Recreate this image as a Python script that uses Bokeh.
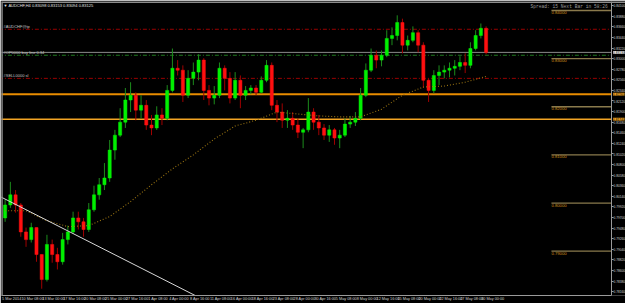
import numpy as np
from bokeh.plotting import figure
from bokeh.models import Range1d, FixedTicker, PrintfTickFormatter, Span, Label
from bokeh.embed import file_html
from bokeh.resources import INLINE

# ---------------- data ----------------
header = "\u25bc AUDCHF,H4  0.83098 0.83153 0.83094 0.83125"
status_text = "Spread: 15  Next Bar in 58:26"
bars_per_candle = 4          # each drawn candle groups four H4 bars
first_open = 0.7969

closes = [0.7996, 0.8017, 0.7996, 0.7940, 0.7924, 0.7949, 0.7893, 0.7841, 0.7914, 0.7893,
          0.7878, 0.7924, 0.7940, 0.7969, 0.7961, 0.7945, 0.7986, 0.8017, 0.8038, 0.8052,
          0.8110, 0.8141, 0.8168, 0.8214, 0.8224, 0.8193, 0.8203, 0.8162, 0.8156, 0.8183,
          0.8176, 0.8234, 0.8280, 0.8276, 0.8224, 0.8259, 0.8272, 0.8297, 0.8234, 0.8218,
          0.8224, 0.8280, 0.8259, 0.8218, 0.8255, 0.8224, 0.8234, 0.8239, 0.8230, 0.8255,
          0.8286, 0.8203, 0.8189, 0.8172, 0.8176, 0.8162, 0.8147, 0.8152, 0.8189, 0.8168,
          0.8156, 0.8141, 0.8152, 0.8135, 0.8141, 0.8164, 0.8168, 0.8176, 0.8224, 0.8276,
          0.8307, 0.8297, 0.8307, 0.8342, 0.8348, 0.8375, 0.8328, 0.8338, 0.8354, 0.8328,
          0.8255, 0.8234, 0.8265, 0.8272, 0.8276, 0.8280, 0.8284, 0.8292, 0.8286, 0.8321,
          0.8348, 0.8363, 0.8313]
highs = [0.8007, 0.8044, 0.8027, 0.8000, 0.7949, 0.7959, 0.7949, 0.7893, 0.7934, 0.7924,
         0.7907, 0.7938, 0.7953, 0.7982, 0.7982, 0.7969, 0.8000, 0.8036, 0.8052, 0.8083,
         0.8131, 0.8152, 0.8197, 0.8239, 0.8251, 0.8230, 0.8224, 0.8214, 0.8183, 0.8201,
         0.8197, 0.8245, 0.8321, 0.8297, 0.8286, 0.8276, 0.8292, 0.8309, 0.8301, 0.8245,
         0.8243, 0.8292, 0.8286, 0.8272, 0.8272, 0.8265, 0.8243, 0.8245, 0.8245, 0.8263,
         0.8297, 0.8292, 0.8214, 0.8207, 0.8193, 0.8189, 0.8176, 0.8156, 0.8218, 0.8197,
         0.8183, 0.8164, 0.8162, 0.8156, 0.8152, 0.8176, 0.8181, 0.8189, 0.8239, 0.8290,
         0.8321, 0.8317, 0.8317, 0.8359, 0.8365, 0.8390, 0.8383, 0.8348, 0.8367, 0.8359,
         0.8334, 0.8259, 0.8276, 0.8286, 0.8286, 0.8292, 0.8297, 0.8305, 0.8311, 0.8334,
         0.8359, 0.8373, 0.8367]
lows = [0.7961, 0.7990, 0.7980, 0.7930, 0.7909, 0.7918, 0.7878, 0.7822, 0.7837, 0.7876,
        0.7862, 0.7872, 0.7914, 0.7936, 0.7945, 0.7930, 0.7940, 0.7982, 0.8007, 0.8027,
        0.8044, 0.8090, 0.8137, 0.8156, 0.8189, 0.8172, 0.8176, 0.8152, 0.8141, 0.8152,
        0.8162, 0.8172, 0.8230, 0.8265, 0.8210, 0.8218, 0.8245, 0.8255, 0.8214, 0.8203,
        0.8205, 0.8218, 0.8234, 0.8207, 0.8214, 0.8197, 0.8214, 0.8226, 0.8224, 0.8228,
        0.8251, 0.8193, 0.8168, 0.8156, 0.8156, 0.8152, 0.8135, 0.8114, 0.8147, 0.8152,
        0.8141, 0.8131, 0.8127, 0.8121, 0.8114, 0.8137, 0.8156, 0.8160, 0.8172, 0.8220,
        0.8272, 0.8280, 0.8284, 0.8303, 0.8328, 0.8338, 0.8311, 0.8317, 0.8334, 0.8313,
        0.8239, 0.8210, 0.8228, 0.8245, 0.8259, 0.8261, 0.8265, 0.8276, 0.8270, 0.8280,
        0.8317, 0.8342, 0.8309]

# moving average, read at every fourth candle
ma_candles = [0, 4, 8, 12, 16, 20, 24, 28, 32, 36, 40, 44, 48, 52, 56, 60, 64, 68, 72, 76, 80, 84, 88, 92]
ma_values = [0.7984, 0.7984, 0.7963, 0.7951, 0.7953, 0.7972, 0.8003, 0.8038, 0.8071, 0.8100,
             0.8133, 0.8160, 0.8172, 0.8189, 0.8185, 0.8181, 0.8179, 0.8179, 0.8195, 0.8224,
             0.8241, 0.8243, 0.8251, 0.8263]

# trend line (bar index, price)
trend_bars = [-1.5, 180]
trend_prices = [0.8013, 0.7763]

# horizontal lines
red_levels = [0.8361, 0.8259]
green_levels = [0.8307]
bid_price = 0.8313
orange_levels = [0.8226, 0.8174]
round_levels = [0.84, 0.83, 0.82, 0.81, 0.80, 0.79]
line_names = ["#AUDCHF@tp", "#OP0000 buy line 0.34", "#SELL0000 sl"]
line_name_prices = [0.8361, 0.8307, 0.8259]

# axis ticks
date_ticks = [0, 16, 32, 48, 64, 80, 96, 112, 128, 144, 160, 176, 192, 208, 224, 240,
              256, 272, 288, 304, 320, 336, 352, 368]
date_labels = ["5 Mar 2014", "10 Mar 08:00", "13 Mar 00:00", "17 Mar 16:00", "20 Mar 08:00",
               "25 Mar 00:00", "27 Mar 16:00", "1 Apr 08:00", "4 Apr 00:00", "8 Apr 16:00",
               "11 Apr 08:00", "16 Apr 00:00", "18 Apr 16:00", "23 Apr 08:00", "28 Apr 00:00",
               "30 Apr 16:00", "5 May 08:00", "8 May 00:00", "12 May 16:00", "15 May 08:00",
               "20 May 00:00", "22 May 16:00", "27 May 08:00", "30 May 00:00"]
price_ticks = [0.7816, 0.7838, 0.7860, 0.7882, 0.7904, 0.7926, 0.7948, 0.7970, 0.7992, 0.8014,
               0.8036, 0.8058, 0.8080, 0.8102, 0.8124, 0.8146, 0.8168, 0.8190, 0.8212, 0.8234,
               0.8256, 0.8278, 0.8300, 0.8322, 0.8344, 0.8366, 0.8388, 0.8410]

# ---------------- figure ----------------
PX_PER_BAR = 1.307
X_START = -0.77                 # frame starts one pixel left of the first bar
AXIS_X = 466.0                  # where the price scale sits (pixel ~611)
X_END = X_START + 624 / PX_PER_BAR
Y_TOP_LINE = 0.84166
Y_LO, Y_HI = 0.78079, 0.84187
FONT = "Liberation Sans"

p = figure(width=625, height=303, output_backend="svg", toolbar_location=None,
           x_range=Range1d(X_START, X_END), y_range=Range1d(Y_LO, Y_HI),
           y_axis_location="right",
           min_border_left=1, min_border_top=1, min_border_right=0, min_border_bottom=7,
           background_fill_color="black", border_fill_color="black")
p.grid.visible = False
p.outline_line_color = None

AX = "#9a9a9a"
# x axis (labels start at their bar, as in the terminal)
label_shift = 7
p.xaxis.ticker = FixedTicker(ticks=[t + label_shift for t in date_ticks])
p.xaxis.major_label_overrides = {t + label_shift: lab for t, lab in zip(date_ticks, date_labels)}
p.xaxis.major_label_text_font_size = "3.8px"
p.xaxis.major_label_text_color = "#d0d0d0"
p.xaxis.major_label_text_font = FONT
p.xaxis.major_label_standoff = 1
p.xaxis.major_tick_out = 0
p.xaxis.major_tick_in = 0
p.xaxis.minor_tick_line_color = None
p.xaxis.axis_line_color = AX
p.xaxis.bounds = (X_START, AXIS_X)

# y axis: price scale at the right edge of the price area
p.yaxis.fixed_location = AXIS_X
p.yaxis.ticker = FixedTicker(ticks=price_ticks)
p.yaxis.formatter = PrintfTickFormatter(format="%.5f")
p.yaxis.major_label_text_font_size = "3.2px"
p.yaxis.major_label_text_color = "#d0d0d0"
p.yaxis.major_label_text_font = FONT
p.yaxis.major_label_standoff = 0
p.yaxis.major_tick_out = 2
p.yaxis.major_tick_in = 0
p.yaxis.major_tick_line_color = AX
p.yaxis.minor_tick_line_color = None
p.yaxis.axis_line_color = AX

# chart frame lines (top and left)
p.add_layout(Span(location=Y_TOP_LINE, dimension="width", line_color="#8c8c8c", line_width=1))
p.add_layout(Span(location=X_START + 0.4, dimension="height", line_color="#8c8c8c", line_width=1.5))

# candles
n = len(closes)
opens = [first_open] + closes[:-1]
xc = [i * bars_per_candle + bars_per_candle / 2 for i in range(n)]
up = [c >= o for o, c in zip(opens, closes)]
wick_col = ["#1c8c1c" if u else "#a00000" for u in up]
body_col = ["#00f000" if u else "#ff1010" for u in up]
tops = [max(o, c) for o, c in zip(opens, closes)]
bots = [min(o, c) for o, c in zip(opens, closes)]
bots = [b if t - b > 0.00005 else t - 0.00005 for t, b in zip(tops, bots)]

# horizontal lines (end at the price scale)
L0 = X_START - 2
p.segment(x0=[L0] * len(red_levels), y0=red_levels, x1=[AXIS_X] * len(red_levels), y1=red_levels,
          line_color="#9a0000", line_width=1, line_dash="4 2 1 2")
p.segment(x0=[L0] * len(green_levels), y0=green_levels, x1=[AXIS_X] * len(green_levels), y1=green_levels,
          line_color="#1f7a1f", line_width=1, line_dash="4 2 1 2")
p.segment(x0=[L0], y0=[bid_price], x1=[AXIS_X], y1=[bid_price], line_color="#8a8a8a", line_width=1)
p.segment(x0=[L0], y0=[orange_levels[0]], x1=[AXIS_X], y1=[orange_levels[0]],
          line_color="#e88c00", line_width=2)
p.segment(x0=[L0], y0=[orange_levels[1]], x1=[AXIS_X], y1=[orange_levels[1]],
          line_color="#f2a424", line_width=1.6)

# round level short lines
p.segment(x0=[420] * len(round_levels), y0=round_levels, x1=[AXIS_X] * len(round_levels),
          y1=round_levels, line_color="#8a7a4c", line_width=1.3)
for lv in round_levels:
    p.add_layout(Label(x=420, y=lv - 0.0001, text="%.5f" % lv, text_font_size="4.2px",
                       text_color="#d4901c", text_baseline="top", text_font=FONT))

p.segment(x0=xc, y0=highs, x1=xc, y1=lows, line_color=wick_col, line_width=1)
p.vbar(x=xc, width=2.4, top=tops, bottom=bots, fill_color=body_col, line_color=body_col, line_width=0.5)

# moving average
p.line([c * bars_per_candle + bars_per_candle / 2 for c in ma_candles], ma_values,
       line_color="#9a7412", line_width=1.1, line_dash="1 2")

# trend line
p.line(trend_bars, trend_prices, line_color="#d8d8d8", line_width=1)

# texts
p.add_layout(Label(x=0.8, y=0.8410, text=header, text_font_size="4px", text_color="#e0e0e0",
                   text_baseline="middle", text_font=FONT))
for nm, pr in zip(line_names, line_name_prices):
    p.add_layout(Label(x=0.8, y=pr + 0.0001, text=nm, text_font_size="4px", text_color="#c8c8c8",
                       text_baseline="bottom", text_font=FONT))
p.add_layout(Label(x=404, y=0.8409, text=status_text, text_font_size="4.6px", text_color="#9a9a9a",
                   text_baseline="middle", text_font="Liberation Mono"))

# highlighted price labels on the price scale
for pr, bg, fg in [(bid_price, "#e8e8e8", "black"),
                   (orange_levels[0], "#f0a020", "black"),
                   (orange_levels[1], "#f0a020", "black")]:
    p.add_layout(Label(x=AXIS_X, y=pr, text="%.5f" % pr, text_font_size="3.2px",
                       text_color=fg, text_baseline="middle", text_font=FONT,
                       background_fill_color=bg, x_offset=1.5, level="overlay"))

open("out.html", "w").write(file_html(p, INLINE))
